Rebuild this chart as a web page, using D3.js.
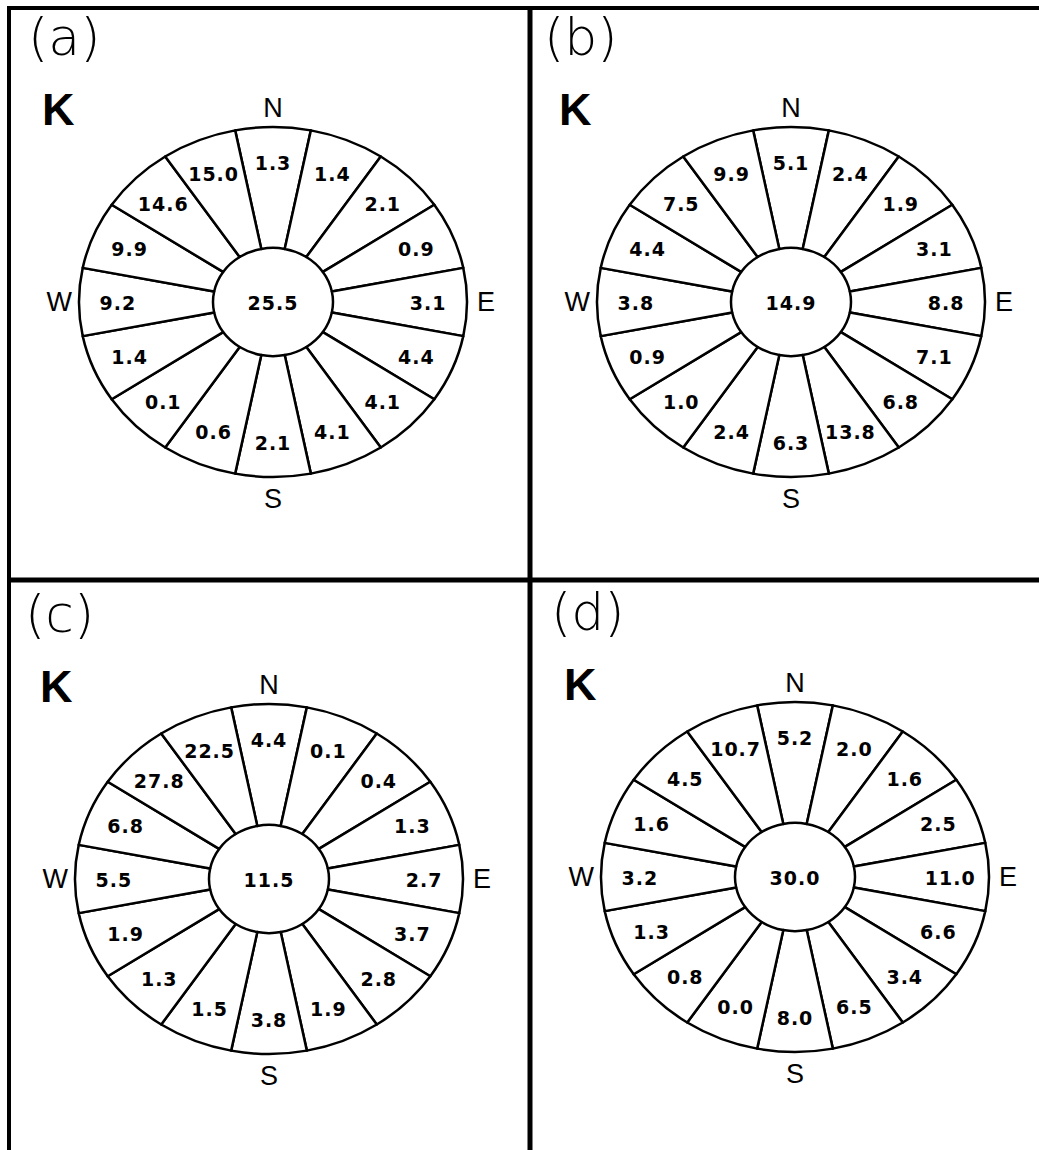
<!DOCTYPE html>
<html>
<head>
  <meta charset="UTF-8">
  <style>
    body {
      margin: 0;
      padding: 0;
      background-color: #fff;
    }
    svg {
      display: block;
      background-color: #fff;
    }
    .panel-label {
      font-family: "DejaVu Sans", sans-serif;
      font-weight: 200;
      font-size: 52px;
    }
    .k-label {
      font-family: "Liberation Sans", Arial, sans-serif;
      font-weight: bold;
      font-size: 45px;
    }
    .compass {
      font-family: "Liberation Sans", Arial, sans-serif;
      font-size: 27px;
    }
    .value {
      font-family: "DejaVu Sans", sans-serif;
      font-weight: bold;
      font-size: 19px;
      letter-spacing: 1px;
    }
  </style>
</head>
<body>
  <svg></svg>
  <script src="https://d3js.org/d3.v7.min.js"></script>

  <script>
  let width = 1039, height = 1150;

  // 16 directions, clockwise from N
  const directions = ["N", "NNE", "NE", "ENE", "E", "ESE", "SE", "SSE",
                      "S", "SSW", "SW", "WSW", "W", "WNW", "NW", "NNW"];
  const panelNames = ["(a)", "(b)", "(c)", "(d)"];

  const valuesA = [1.3, 1.4, 2.1, 0.9, 3.1, 4.4, 4.1, 4.1, 2.1, 0.6, 0.1, 1.4, 9.2, 9.9, 14.6, 15.0];
  const valuesB = [5.1, 2.4, 1.9, 3.1, 8.8, 7.1, 6.8, 13.8, 6.3, 2.4, 1.0, 0.9, 3.8, 4.4, 7.5, 9.9];
  const valuesC = [4.4, 0.1, 0.4, 1.3, 2.7, 3.7, 2.8, 1.9, 3.8, 1.5, 1.3, 1.9, 5.5, 6.8, 27.8, 22.5];
  const valuesD = [5.2, 2.0, 1.6, 2.5, 11.0, 6.6, 3.4, 6.5, 8.0, 0.0, 0.8, 1.3, 3.2, 1.6, 4.5, 10.7];
  const calms = [25.5, 14.9, 11.5, 30.0];

  const allValues = [valuesA, valuesB, valuesC, valuesD];

  // where each rose sits on the page
  const layout = [
    {cx: 273, cy: 302, lx: 28,  ly: 55,  kx: 42,  ky: 125},
    {cx: 791, cy: 302, lx: 544, ly: 55,  kx: 559, ky: 125},
    {cx: 269, cy: 879, lx: 25,  ly: 632, kx: 40,  ky: 702},
    {cx: 795, cy: 877, lx: 551, ly: 630, kx: 564, ky: 700}
  ];

  // the roses are drawn a bit flattened: wider than tall
  const rx = 194, ry = 175, innerR = 60, textFrac = 0.8;
  const squash = ry / rx;

  let svg = d3.select("svg")
      .attr("width", width)
      .attr("height", height);

  // frame lines
  const frame = svg.append("g").attr("stroke", "#000");
  frame.append("line").attr("x1", 7).attr("x2", width).attr("y1", 8).attr("y2", 8).attr("stroke-width", 4);
  frame.append("line").attr("x1", 9).attr("x2", 9).attr("y1", 6).attr("y2", height).attr("stroke-width", 4);
  frame.append("line").attr("x1", 530).attr("x2", 530).attr("y1", 8).attr("y2", height).attr("stroke-width", 5);
  frame.append("line").attr("x1", 9).attr("x2", width).attr("y1", 580).attr("y2", 580).attr("stroke-width", 5);

  const angle = d3.scaleLinear().domain([0, directions.length]).range([0, 2 * Math.PI]);

  const arc = d3.arc()
      .innerRadius(innerR)
      .outerRadius(rx)
      .startAngle((d, i) => angle(i - 0.5))
      .endAngle((d, i) => angle(i + 0.5));

  allValues.forEach((vals, p) => {
      const L = layout[p];

      svg.append("text")
          .attr("class", "panel-label")
          .attr("x", L.lx)
          .attr("y", L.ly)
          .text(panelNames[p]);

      svg.append("text")
          .attr("class", "k-label")
          .attr("x", L.kx)
          .attr("y", L.ky)
          .text("K");

      const g = svg.append("g")
          .attr("transform", `translate(${L.cx}, ${L.cy})`);

      g.append("g")
          .attr("transform", `scale(1, ${squash})`)
          .selectAll("path.sector")
          .data(vals)
          .enter()
          .append("path")
          .attr("class", "sector")
          .attr("d", arc)
          .attr("fill", "#fff")
          .attr("stroke", "#000")
          .attr("stroke-width", 2.5)
          .attr("vector-effect", "non-scaling-stroke")
          .attr("stroke-linejoin", "round");

      g.selectAll("text.value")
          .data(vals)
          .enter()
          .append("text")
          .attr("class", "value")
          .attr("x", (d, i) => textFrac * rx * Math.sin(angle(i)))
          .attr("y", (d, i) => -textFrac * ry * Math.cos(angle(i)))
          .attr("dy", 1)
          .attr("text-anchor", "middle")
          .attr("dominant-baseline", "central")
          .text(d => d.toFixed(1));

      g.append("text")
          .attr("class", "value")
          .attr("x", 0)
          .attr("y", 0)
          .attr("dy", 1)
          .attr("text-anchor", "middle")
          .attr("dominant-baseline", "central")
          .text(calms[p].toFixed(1));

      // compass points
      g.append("text").attr("class", "compass")
          .attr("x", 0).attr("y", -ry - 10)
          .attr("text-anchor", "middle").text("N");
      g.append("text").attr("class", "compass")
          .attr("x", 0).attr("y", ry + 31)
          .attr("text-anchor", "middle").text("S");
      g.append("text").attr("class", "compass")
          .attr("x", -rx - 7).attr("y", 0)
          .attr("text-anchor", "end")
          .attr("dominant-baseline", "central").text("W");
      g.append("text").attr("class", "compass")
          .attr("x", rx + 10).attr("y", 0)
          .attr("text-anchor", "start")
          .attr("dominant-baseline", "central").text("E");
  });
  </script>

</body>
</html>
